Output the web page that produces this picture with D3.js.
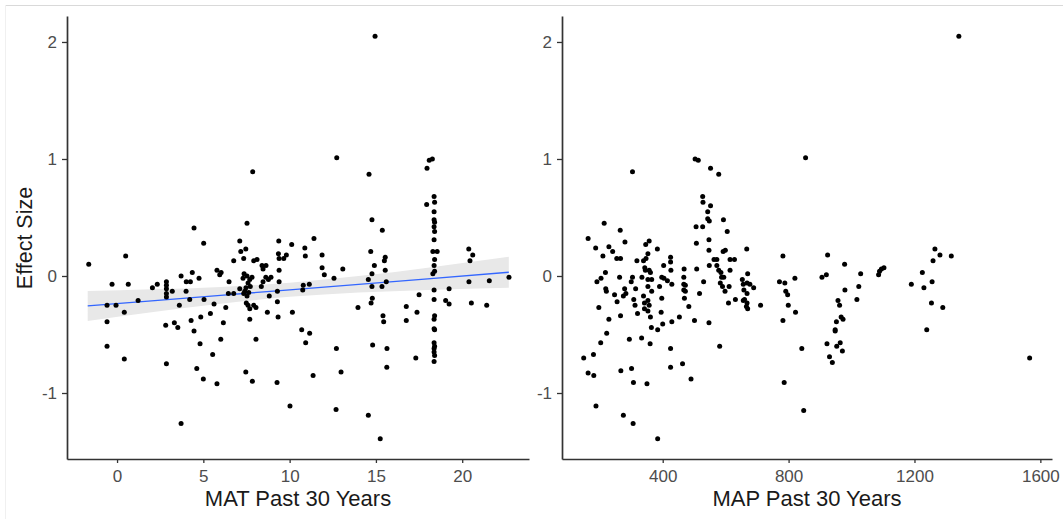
<!DOCTYPE html>
<html>
<head>
<meta charset="utf-8">
<script src="https://cdn.jsdelivr.net/npm/d3@7"></script>
<style>
  html, body { margin: 0; padding: 0; background: #ffffff; }
  svg { display: block; font-family: "Liberation Sans", Arial, sans-serif; }
</style>
</head>
<body>
<svg id="chart" width="1063" height="519"></svg>
<script>
// ---- Data ----
const matX = [7.86,7.53,4.46,5.02,7.11,9.37,10.12,7.17,7.46,0.50,7.34,9.35,9.39,9.66,9.81,6.76,-1.64,7.92,8.11,8.40,8.63,8.46,9.39,5.79,6.03,5.95,4.36,3.71,4.75,7.36,7.53,7.82,7.30,7.69,4.01,4.25,8.62,8.92,8.77,8.46,8.36,9.39,6.49,-0.29,0.65,2.33,2.05,2.86,2.86,2.86,2.86,2.86,3.20,4.00,7.59,7.47,7.72,7.40,7.63,7.53,7.34,7.11,6.45,6.76,9.29,1.22,4.21,5.04,-0.58,-0.06,3.61,5.62,6.30,7.49,7.69,7.92,8.05,7.59,9.29,0.42,8.71,10.16,-0.58,2.82,3.32,3.52,4.29,4.85,5.41,4.46,6.16,7.69,9.33,-0.58,4.81,6.01,8.05,5.54,0.42,2.86,4.62,7.46,5.00,5.79,7.84,9.27,10.02,3.71,8.82,
  12.73,14.60,18.09,18.27,17.96,14.77,15.37,11.41,10.88,10.91,11.88,14.70,15.54,15.49,15.54,14.91,14.77,11.88,12.01,13.08,12.57,14.56,14.77,15.35,15.60,10.79,11.14,10.76,
  18.37,18.40,18.37,18.37,18.40,18.37,18.40,18.37,18.30,18.55,18.40,18.37,18.40,18.30,18.37,18.37,18.40,18.37,18.37,18.40,18.37,18.40,18.37,18.37,18.40,18.37,
  17.94,19.24,19.04,19.24,17.50,16.76,17.38,16.76,20.38,20.61,20.45,20.39,21.57,22.71,20.53,21.42,13.96,14.79,14.72,15.41,15.45,10.70,11.16,10.93,12.71,14.81,15.64,17.31,15.63,11.36,12.98,12.69,14.56,15.25,14.95];
const matY = [0.89,0.45,0.41,0.28,0.30,0.30,0.27,0.21,0.23,0.17,0.15,0.19,0.15,0.15,0.18,0.13,0.10,0.13,0.14,0.09,0.09,0.06,0.05,0.05,0.03,0.01,0.03,0.00,-0.02,0.02,0.00,-0.01,-0.02,-0.03,-0.05,-0.05,-0.01,-0.01,-0.03,-0.05,-0.09,-0.05,-0.05,-0.07,-0.07,-0.07,-0.10,-0.05,-0.08,-0.11,-0.15,-0.18,-0.13,-0.13,-0.06,-0.10,-0.09,-0.13,-0.14,-0.17,-0.15,-0.11,-0.15,-0.15,-0.13,-0.21,-0.20,-0.20,-0.25,-0.25,-0.25,-0.24,-0.27,-0.23,-0.28,-0.25,-0.27,-0.25,-0.22,-0.31,-0.31,-0.31,-0.39,-0.42,-0.40,-0.44,-0.38,-0.35,-0.32,-0.47,-0.40,-0.37,-0.35,-0.60,-0.58,-0.54,-0.54,-0.67,-0.71,-0.75,-0.79,-0.82,-0.88,-0.92,-0.90,-0.91,-1.11,-1.26,-0.17,
  1.01,0.87,0.99,1.00,0.92,0.48,0.39,0.32,0.24,0.17,0.18,0.21,0.16,0.13,0.05,0.09,0.02,0.07,0.01,0.06,-0.02,-0.03,-0.09,-0.09,-0.05,-0.08,-0.07,-0.12,
  0.68,0.63,0.55,0.48,0.46,0.42,0.38,0.31,0.21,0.21,0.14,0.09,0.04,0.02,-0.12,-0.20,-0.34,-0.37,-0.45,-0.46,-0.57,-0.60,-0.62,-0.65,-0.68,-0.73,
  0.61,-0.11,-0.21,-0.24,-0.16,-0.26,-0.31,-0.38,0.23,0.18,0.13,-0.05,-0.04,-0.01,-0.23,-0.25,-0.27,-0.19,-0.23,-0.34,-0.39,-0.46,-0.49,-0.57,-0.62,-0.59,-0.62,-0.70,-0.78,-0.85,-0.82,-1.14,-1.19,-1.39,2.05];

const mapX = [503,513,552,578,304,527,528,552,543,543,548,593,605,506,527,507,547,547,592,599,667,214,265,280,163,187,210,229,241,254,266,346,357,353,383,318,339,347,425,425,403,426,343,357,361,468,508,548,563,572,572,614,628,578,585,594,583,590,611,614,598,587,653,670,656,668,677,689,658,668,660,668,670,666,656,711,631,609,547,581,517,530,501,467,467,472,467,472,469,483,453,429,397,404,415,429,390,397,395,400,334,353,365,353,339,353,342,357,342,353,320,361,364,384,365,345,304,314,300,279,283,275,308,312,255,247,263,218,219,221,191,204,197,266,229,222,203,294,333,360,425,180,149,163,181,267,301,307,350,425,463,490,188,275,306,384,
  782,771,788,791,797,799,822,820,782,786,842,854,848,924,978,906,920,1029,1086,1089,1095,1103,1023,979,1017,957,962,967,973,952,948,948,922,953,964,971,930,939,1265,1281,1317,1259,1225,1190,1230,1256,1254,1290,1239,1566,1341];
const mapY = [1.00,0.99,0.92,0.87,0.89,0.68,0.63,0.60,0.55,0.49,0.47,0.48,0.38,0.42,0.42,0.28,0.31,0.22,0.21,0.22,0.23,0.45,0.39,0.29,0.32,0.24,0.17,0.25,0.21,0.15,0.15,0.27,0.30,0.19,0.23,0.13,0.13,0.15,0.16,0.12,0.09,0.05,0.07,0.05,0.03,0.06,0.06,0.09,0.14,0.14,0.09,0.14,0.14,0.05,0.03,-0.01,-0.06,-0.09,-0.09,0.05,-0.13,-0.01,-0.03,0.02,-0.07,-0.06,-0.07,-0.10,-0.12,-0.15,-0.20,-0.23,-0.28,-0.26,-0.21,-0.25,-0.20,-0.23,-0.40,-0.60,-0.15,-0.05,-0.38,-0.01,-0.07,-0.08,-0.12,-0.13,-0.19,-0.26,-0.35,-0.39,-0.01,-0.02,-0.04,-0.07,-0.09,-0.19,-0.31,-0.41,-0.01,-0.03,-0.03,-0.09,-0.17,-0.21,-0.23,-0.25,-0.28,-0.30,-0.32,-0.35,-0.44,-0.46,-0.13,0.05,-0.01,-0.11,-0.05,-0.11,-0.15,-0.17,-0.20,-0.25,-0.22,-0.16,-0.01,0.03,-0.11,-0.13,-0.05,-0.02,-0.27,-0.34,-0.37,-0.49,-0.57,-0.54,-0.53,-0.58,-0.62,-0.67,-0.70,-0.83,-0.85,-0.81,-0.79,-0.91,-0.92,-0.78,-0.75,-0.88,-1.11,-1.19,-1.26,-1.39,
  0.17,-0.05,-0.06,-0.13,-0.16,-0.25,-0.31,-0.02,-0.38,-0.91,-0.62,1.01,-1.15,0.18,0.10,-0.01,0.01,0.02,0.01,0.04,0.06,0.07,-0.09,-0.12,-0.20,-0.21,-0.25,-0.35,-0.37,-0.39,-0.46,-0.47,-0.58,-0.60,-0.57,-0.64,-0.69,-0.74,0.23,0.18,0.17,0.13,0.03,-0.07,-0.10,-0.05,-0.23,-0.27,-0.46,-0.70,2.05];

// linear fit and confidence band for MAT panel
const bandX  = [-1.7, 2, 6, 10, 14, 18, 22.7];
const bandFit = [-0.256, -0.212, -0.165, -0.118, -0.071, -0.024, 0.032];
const bandLo = [-0.384, -0.310, -0.237, -0.178, -0.141, -0.119, -0.101];
const bandHi = [-0.128, -0.114, -0.093, -0.058, -0.001, 0.071, 0.165];

const yTicks = [-1, 0, 1, 2];
const matTicks = [0, 5, 10, 15, 20];
const mapTicks = [400, 800, 1200, 1600];
const matTitle = "MAT Past 30 Years";
const mapTitle = "MAP Past 30 Years";
const yTitle = "Effect Size";

// ---- Drawing ----
const svg = d3.select("#chart");
svg.append("rect").attr("width", 1063).attr("height", 519).attr("fill", "#ffffff");
svg.append("line").attr("x1", 5).attr("x2", 1063).attr("y1", 5.5).attr("y2", 5.5)
  .attr("stroke", "#d9d9d9").attr("stroke-width", 1.2);
svg.append("line").attr("x1", 5.5).attr("x2", 5.5).attr("y1", 5).attr("y2", 519)
  .attr("stroke", "#f0f0f0").attr("stroke-width", 1);

const plotTop = 16, plotBottom = 459;
const y = d3.scaleLinear().domain([-1.564, 2.222]).range([plotBottom, plotTop]);
const fmt = d => String(d);   // plain hyphen-minus like the reference

function styleAxis(g) {
  g.select(".domain").attr("stroke", "#333333").attr("stroke-width", 1.7);
  g.selectAll(".tick line").attr("stroke", "#333333").attr("stroke-width", 1.3);
  g.selectAll(".tick text").attr("fill", "#4d4d4d").attr("font-size", 17)
    .attr("font-family", "Liberation Sans, Arial, sans-serif");
}

function panel(x0, x1, xDomain, xTicks, title, labelPad) {
  const x = d3.scaleLinear().domain(xDomain).range([x0, x1]);
  const g = svg.append("g");
  const ya = g.append("g").attr("transform", `translate(${x0},0)`)
    .call(d3.axisLeft(y).tickValues(yTicks).tickFormat(fmt).tickSize(5).tickSizeOuter(0).tickPadding(labelPad));
  styleAxis(ya);
  const xa = g.append("g").attr("transform", `translate(0,${plotBottom})`)
    .call(d3.axisBottom(x).tickValues(xTicks).tickFormat(fmt).tickSize(4).tickSizeOuter(0).tickPadding(7));
  styleAxis(xa);
  g.append("text").attr("x", (x0 + x1) / 2).attr("y", 506).attr("text-anchor", "middle")
    .attr("font-size", 22).attr("fill", "#1a1a1a").text(title);
  return {x, g};
}

const p1 = panel(67, 529, [-2.9, 23.87], matTicks, matTitle, 5);
const p2 = panel(562, 1052, [80, 1637], mapTicks, mapTitle, 5);

// band + fit in panel 1
const bandData = bandX.map((d, i) => ({x: d, lo: bandLo[i], hi: bandHi[i], f: bandFit[i]}));
const area = d3.area().curve(d3.curveMonotoneX).x(d => p1.x(d.x)).y0(d => y(d.lo)).y1(d => y(d.hi));
p1.g.insert("path", ":first-child").datum(bandData).attr("d", area).attr("fill", "#e8e8e8");
const line = d3.line().x(d => p1.x(d.x)).y(d => y(d.f));
p1.g.append("path").datum(bandData).attr("d", line).attr("fill", "none")
  .attr("stroke", "#3366FF").attr("stroke-width", 1.3);

p1.g.selectAll("circle.pt").data(matX.map((d, i) => [d, matY[i]])).enter().append("circle")
  .attr("class", "pt").attr("cx", d => p1.x(d[0])).attr("cy", d => y(d[1])).attr("r", 2.5).attr("fill", "#000");
p2.g.selectAll("circle.pt").data(mapX.map((d, i) => [d, mapY[i]])).enter().append("circle")
  .attr("class", "pt").attr("cx", d => p2.x(d[0])).attr("cy", d => y(d[1])).attr("r", 2.5).attr("fill", "#000");

svg.append("text").attr("transform", "translate(32,238) rotate(-90)").attr("text-anchor", "middle")
  .attr("font-size", 21.5).attr("fill", "#1a1a1a").text(yTitle);
</script>
</body>
</html>
